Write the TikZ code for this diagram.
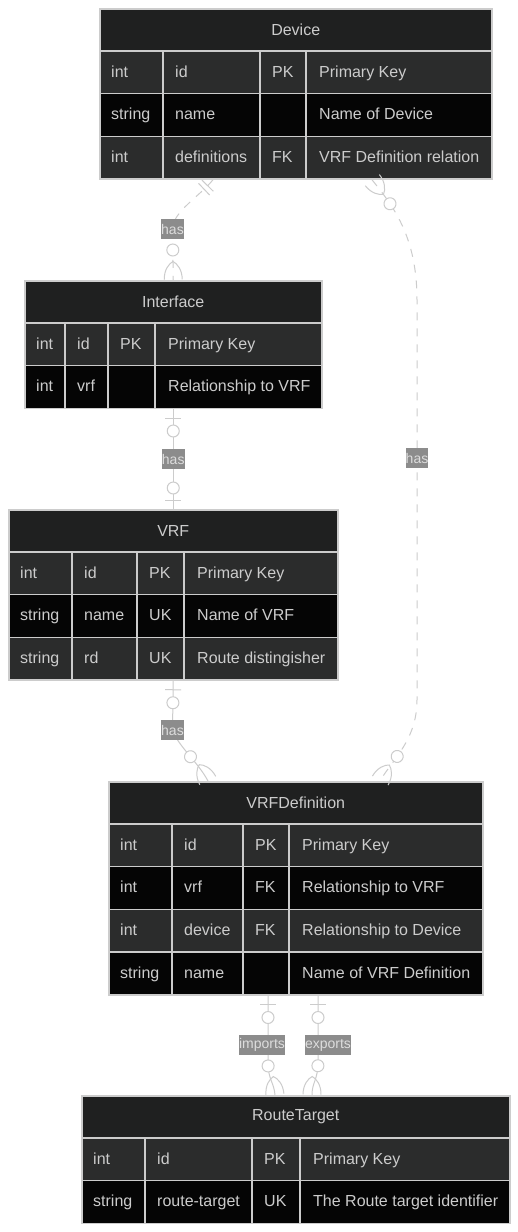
\documentclass[tikz,border=0pt]{standalone}
\usepackage{fontspec}
\setmainfont{Liberation Sans}
\usetikzlibrary{decorations.markings}

\definecolor{erhead}{HTML}{1F2020}
\definecolor{erodd}{HTML}{2B2C2C}
\definecolor{ereven}{HTML}{050505}
\definecolor{erline}{HTML}{CCCCCC}
\definecolor{ertxt}{HTML}{CCCCCC}
\definecolor{erlbl}{HTML}{8C8C8C}
\definecolor{erlbltxt}{HTML}{DDDDDD}

\tikzset{
  erborder/.style={draw=erline, line width=1.5pt},
  ertitle/.style={erborder, fill=erhead, text=ertxt, inner sep=0pt, minimum height=42pt,
    font=\fontsize{16}{19}\selectfont},
  errow/.style={erborder, inner sep=0pt, minimum height=42.75pt},
  ertext/.style={text=ertxt, inner sep=0pt, anchor=base west, font=\fontsize{16}{19}\selectfont},
  erconn/.style={draw=erline, line width=1pt},
  erdash/.style={dash pattern=on 8pt off 8pt},
  erlabel/.style={fill=erlbl, text=erlbltxt, inner xsep=0pt, inner ysep=0pt, minimum height=20pt,
    font=\fontsize{14}{16}\selectfont},
  % -- cardinality marks --
  onlyone start/.style={postaction={decorate, decoration={markings,
    mark=at position 8pt with {\draw[erconn, solid] (0,-8pt) -- (0,8pt);},
    mark=at position 13pt with {\draw[erconn, solid] (0,-8pt) -- (0,8pt);}}}},
  zeroone start/.style={postaction={decorate, decoration={markings,
    mark=at position 9pt with {\draw[erconn, solid] (0,-8pt) -- (0,8pt);},
    mark=at position 22pt with {\draw[erconn, solid, fill=white] (0,0) circle (6pt);}}}},
  zeroone end/.style={postaction={decorate, decoration={markings,
    mark=at position -9pt with {\draw[erconn, solid] (0,-8pt) -- (0,8pt);},
    mark=at position -21pt with {\draw[erconn, solid, fill=white] (0,0) circle (6pt);}}}},
  zeromany start/.style={postaction={decorate, decoration={markings,
    mark=at position 0.5pt with {\draw[erconn, solid] (0,9pt) .. controls (10pt,9pt) and (16pt,4pt) .. (18pt,0)
      .. controls (16pt,-4pt) and (10pt,-9pt) .. (0,-9pt);},
    mark=at position 30pt with {\draw[erconn, solid, fill=white] (0,0) circle (6pt);}}}},
  zeromany end/.style={postaction={decorate, decoration={markings,
    mark=at position -0.5pt with {\draw[erconn, solid] (0,9pt) .. controls (-10pt,9pt) and (-16pt,4pt) .. (-18pt,0)
      .. controls (-16pt,-4pt) and (-10pt,-9pt) .. (0,-9pt);},
    mark=at position -30pt with {\draw[erconn, solid, fill=white] (0,0) circle (6pt);}}}},
}

% #1 name, #2 left, #3-#5 column lines, #6 right, #7 top, #8 title, #9 rows
\newcommand{\erentity}[9]{%
  \node[ertitle, minimum width={#6-#2}, anchor=north west] (#1) at (#2,#7) {#8};
  \foreach \etype/\ename/\ekey/\ecomm/\efill [count=\i] in {#9} {
    \pgfmathsetmacro{\ytop}{#7+42+(\i-1)*42.75}
    \node[errow, fill=\efill, minimum width={#6-#2}, anchor=north west] (#1-\i) at (#2,\ytop) {};
    \draw[erborder] (#3,\ytop) -- ++(0,42.75) (#4,\ytop) -- ++(0,42.75) (#5,\ytop) -- ++(0,42.75);
    \node[ertext] at ({#2+12},{\ytop+27}) {\etype};
    \node[ertext] at ({#3+12},{\ytop+27}) {\ename};
    \node[ertext] at ({#4+12},{\ytop+27}) {\ekey};
    \node[ertext] at ({#5+13},{\ytop+27}) {\ecomm};
  }
}

\begin{document}
\begin{tikzpicture}[x=1pt, y=-1pt]

  \fill[white] (0,0) rectangle (518,1232);
  \useasboundingbox (0,0) rectangle (518,1232);

  % -- Entities --
  \erentity{dev}{99}{163}{260}{306}{491}{8}{Device}{int/id/PK/Primary Key/erodd,
    string/name//Name of Device/ereven, int/definitions/FK/VRF Definition relation/erodd}
  \erentity{iface}{24}{65}{108}{155}{321}{280}{Interface}{int/id/PK/Primary Key/erodd,
    int/vrf//Relationship to VRF/ereven}
  \erentity{vrf}{8}{72}{137}{184}{337}{509}{VRF}{int/id/PK/Primary Key/erodd,
    string/name/UK/Name of VRF/ereven, string/rd/UK/Route distingisher/erodd}
  \erentity{vdef}{108}{172}{243}{289}{482}{781}{VRFDefinition}{int/id/PK/Primary Key/erodd,
    int/vrf/FK/Relationship to VRF/ereven, int/device/FK/Relationship to Device/erodd,
    string/name//Name of VRF Definition/ereven}
  \erentity{rt}{81}{145}{252}{300}{509}{1095}{RouteTarget}{int/id/PK/Primary Key/erodd,
    string/route-target/UK/The Route target identifier/ereven}

  % -- Relationships --
  \draw[erconn, erdash, onlyone start, zeromany end] ([xshift=114pt]dev-3.south west)
    .. controls (200,196) and (172.5,212) .. (172.5,229) node[erlabel] (has1) {has} -- (iface.north);
  \draw[erconn, zeroone start, zeroone end] (iface-2.south) -- node[erlabel] (has2) {has} (vrf.north);
  \draw[erconn, zeroone start, zeromany end] (vrf-3.south) -- (172.5,730) node[erlabel] (has3) {has}
    .. controls (178,746) and (198,762) .. ([xshift=100pt]vdef.north west);
  \draw[erconn, erdash, zeromany start, zeromany end] ([xshift=273pt]dev-3.south west)
    .. controls (392,205) and (417,235) .. (417,300) -- (417,458) node[erlabel] (has4) {has}
    -- (417,700) .. controls (417,740) and (392,760) .. ([xshift=272pt]vdef.north west);
  \draw[erconn, zeroone start, zeromany end] ([xshift=160pt]vdef-4.south west) -- (268,1045)
    node[erlabel, xshift=-6pt] (imp) {imports} -- (268,1062) .. controls (268,1080) and (274,1082) .. ([xshift=194pt]rt.north west);
  \draw[erconn, zeroone start, zeromany end] ([xshift=210pt]vdef-4.south west) -- (318,1045)
    node[erlabel, xshift=10pt] (exp) {exports} -- (318,1062) .. controls (318,1080) and (312,1082) .. ([xshift=231pt]rt.north west);

\end{tikzpicture}
\end{document}
